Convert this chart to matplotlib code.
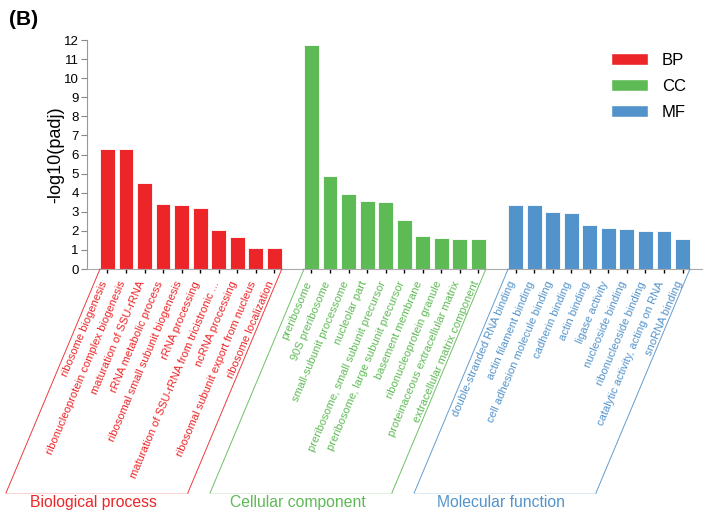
import numpy as np
import matplotlib
matplotlib.use('Agg')
import matplotlib.pyplot as plt
from matplotlib.patches import Patch
from matplotlib.lines import Line2D

plt.rcParams['font.family'] = ['Liberation Sans', 'DejaVu Sans']

bp_terms = ['ribosome biogenesis', 'ribonucleoprotein complex biogenesis',
            'maturation of SSU-rRNA', 'rRNA metabolic process',
            'ribosomal small subunit biogenesis', 'rRNA processing',
            'maturation of SSU-rRNA from tricistronic ...', 'ncRNA processing',
            'ribosomal subunit export from nucleus', 'ribosome localization']
bp_vals = [6.3, 6.3, 4.52, 3.41, 3.35, 3.21, 2.03, 1.66, 1.08, 1.08]

cc_terms = ['preribosome', '90S preribosome', 'small-subunit processome',
            'nucleolar part', 'preribosome, small subunit precursor',
            'preribosome, large subunit precursor', 'basement membrane',
            'ribonucleoprotein granule', 'proteinaceous extracellular matrix',
            'extracellular matrix component']
cc_vals = [11.75, 4.87, 3.91, 3.56, 3.49, 2.57, 1.75, 1.62, 1.55, 1.55]

mf_terms = ['double-stranded RNA binding', 'actin filament binding',
            'cell adhesion molecule binding', 'cadherin binding', 'actin binding',
            'ligase activity', 'nucleoside binding', 'ribonucleoside binding',
            'catalytic activity, acting on RNA', 'snoRNA binding']
mf_vals = [3.37, 3.37, 2.99, 2.93, 2.29, 2.16, 2.08, 1.99, 1.99, 1.57]

groups = ['BP', 'CC', 'MF']
group_names = ['Biological process', 'Cellular component', 'Molecular function']
colors = ['#EC2528', '#5EBA55', '#5393CB']

fig = plt.figure(figsize=(7.09, 5.11), dpi=100)
ax = fig.add_axes([87/709, 1-269/511, (702-87)/709, (269-40)/511])

all_terms = [bp_terms, cc_terms, mf_terms]
all_vals = [bp_vals, cc_vals, mf_vals]

positions = []
labels = []
label_colors = []
start = 0
edges = []
for terms, vals, c in zip(all_terms, all_vals, colors):
    x = np.arange(start, start + len(vals))
    ax.bar(x, vals, width=0.8, color=c, edgecolor='white', linewidth=0.6)
    positions.extend(x)
    labels.extend(terms)
    label_colors.extend([c] * len(terms))
    edges.append((x[0] - 0.4, x[-1] + 0.4))
    start += len(vals) + 1

ax.set_xlim(-1.1, 32.05)
ax.set_ylim(0, 12)
ax.set_yticks(range(0, 13))
ax.tick_params(axis='y', labelsize=9.5, color='#888888', length=4, width=0.8, pad=2)
ax.set_ylabel('-log10(padj)', fontsize=13, labelpad=0)

ax.set_xticks(positions)
ax.set_xticklabels(labels, rotation=67, ha='right', va='baseline',
                   rotation_mode='anchor', fontsize=8)
for t, c in zip(ax.get_xticklabels(), label_colors):
    t.set_color(c)
ax.tick_params(axis='x', color='black', length=3, width=1, pad=7)

for s in ['top', 'right']:
    ax.spines[s].set_visible(False)
ax.spines['left'].set_color('#999999')
ax.spines['bottom'].set_color('#aaaaaa')
ax.spines['left'].set_linewidth(0.8)
ax.spines['bottom'].set_linewidth(0.8)

# group brackets (slanted parallelograms) below the labels
fig.canvas.draw()
dx, dy = -94, -224
inv = fig.transFigure.inverted()
for (x0, x1), c, name in zip(edges, colors, group_names):
    p0 = ax.transData.transform((x0, 0))
    p1 = ax.transData.transform((x1, 0))
    b0 = p0 + np.array([dx, dy])
    b1 = p1 + np.array([dx, dy])
    for a, b in [(p0, b0), (p1, b1)]:
        fa, fb = inv.transform(a), inv.transform(b)
        fig.add_artist(Line2D([fa[0], fb[0]], [fa[1], fb[1]], color=c,
                              linewidth=0.7, alpha=0.9))
    fa, fb = inv.transform(b0), inv.transform(b1)
    fig.add_artist(Line2D([fa[0], fb[0]], [fa[1], fb[1]], color=c,
                          linewidth=0.7, alpha=0.2))
    fig.text((fa[0] + fb[0]) / 2 - 0.005, fa[1] - 0.004, name, color=c,
             fontsize=11.3, ha='center', va='top')

handles = [Patch(facecolor=c, edgecolor='white', label=g) for g, c in zip(groups, colors)]
ax.legend(handles=handles, loc='upper right', bbox_to_anchor=(0.998, 1.01),
          frameon=False, fontsize=12, handlelength=2.2, handleheight=0.8,
          labelspacing=0.65, handletextpad=0.85)

fig.text(0.013, 0.98, '(B)', fontsize=15, fontweight='bold', va='top', ha='left')

fig.savefig('out.png', dpi=100)
